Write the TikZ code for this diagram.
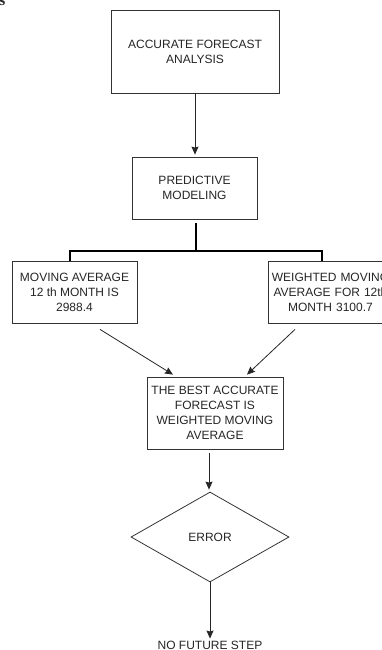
\documentclass[tikz,border=0pt]{standalone}
\usepackage{fontspec}
\setmainfont{Liberation Sans}
\newfontfamily\serifbold{Liberation Serif}
\usetikzlibrary{arrows.meta,shapes.geometric,calc}
\begin{document}
\begin{tikzpicture}[x=1pt,y=-1pt,
  every node/.style={font=\fontsize{12}{15}\selectfont, text=black!85, align=center, inner sep=0pt},
  box/.style={draw=black!80, line width=0.8pt, rectangle},
  arr/.style={draw=black!85, line width=0.8pt, -{Stealth[length=8pt,width=7pt,inset=1pt]}},
  thick link/.style={draw=black, line width=1.6pt}]
\useasboundingbox (0,0) rectangle (382,650);
\clip (0,0) rectangle (382,650);
\fill[white] (0,0) rectangle (382,650);
\node[anchor=base west, font=\serifbold\bfseries\fontsize{16}{16}\selectfont] (frag) at (-1,6) {s};
\node[box, minimum width=168pt, minimum height=83pt] (b1) at (195,51.5) {ACCURATE FORECAST\\ANALYSIS};
\node[box, minimum width=125pt, minimum height=62pt] (b2) at (194.5,188) {PREDICTIVE\\MODELING};
\node[box, minimum width=125pt, minimum height=62pt] (b3) at (74.5,292) {MOVING AVERAGE\\12 th MONTH IS\\2988.4};
\node[box, minimum width=125pt, minimum height=62pt, text width=125pt] (b4) at (330.5,292) {WEIGHTED MOVING\\AVERAGE FOR 12th\\MONTH 3100.7};
\node[box, minimum width=136pt, minimum height=72pt] (b5) at (215,413) {THE BEST ACCURATE\\FORECAST IS\\WEIGHTED MOVING\\AVERAGE};
\node[draw=black!80, line width=0.8pt, diamond, aspect=1.76, minimum width=158pt, minimum height=90pt] (dia) at (210,537) {ERROR};
\node (end) at (210,645) {NO FUTURE STEP};
\coordinate (split) at (196,251);
\coordinate (lft) at (70,251);
\coordinate (rgt) at (322,251);
\draw[arr] (b1.south -| 195,0) -- ($(b2.north)+(0.5,-2)$);
\draw[thick link] ($(b2.south)+(1.5,4)$) -- (split);
\draw[thick link] (b3.north -| lft) -- (lft) -- (rgt) -- (b4.north -| rgt);
\draw[arr] ($(b3.south)+(25.5,6)$) -- ($(b5.north)+(-42,-2)$);
\draw[arr] ($(b4.south)+(-35.5,6)$) -- ($(b5.north)+(32,-2)$);
\draw[arr] ($(b5.south)+(-6,4)$) -- ($(dia.north)+(-1,-2)$);
\draw[arr] (dia.south) -- ($(end.north)+(0,-2)$);
\end{tikzpicture}
\end{document}
